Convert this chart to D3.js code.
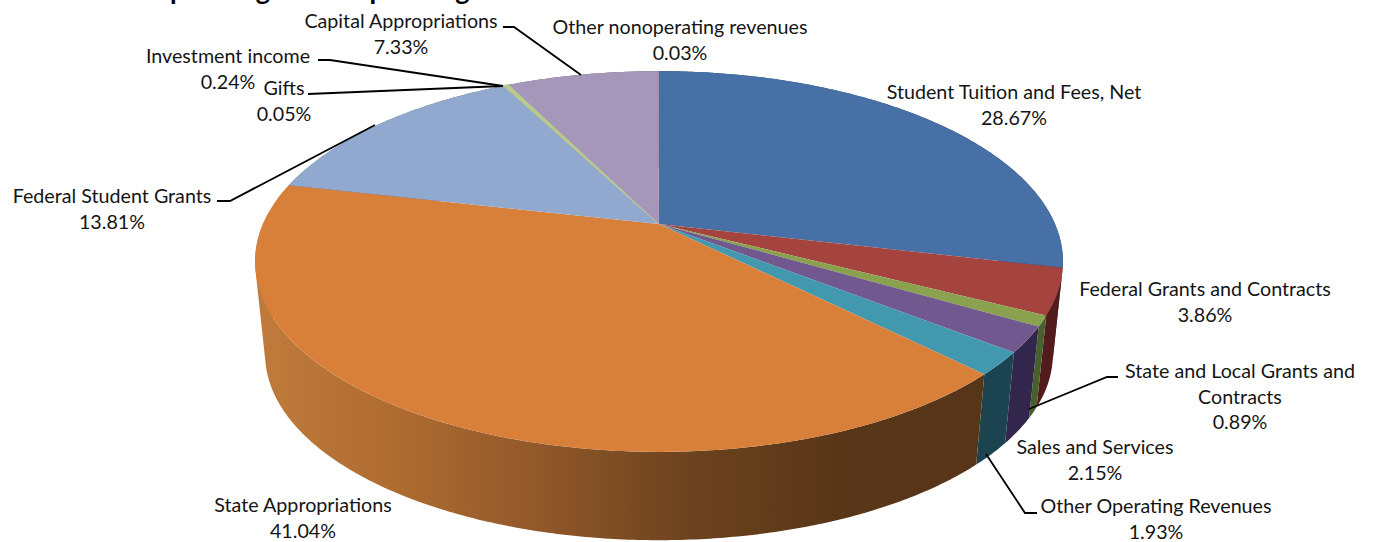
<!DOCTYPE html>
<html>
<head>
<meta charset="utf-8">
<script src="https://cdn.jsdelivr.net/npm/d3@7"></script>
<style>
  html, body { margin: 0; padding: 0; background: #fff; }
  svg { display: block; }
  text { font-family: Lato, sans-serif; font-size: 19.7px; fill: #151515; text-anchor: middle; }
</style>
</head>
<body>
<div id="chart"></div>
<script>
// Chart values
let categories = [
  'Student Tuition and Fees, Net',
  'Federal Grants and Contracts',
  'State and Local Grants and Contracts',
  'Sales and Services',
  'Other Operating Revenues',
  'State Appropriations',
  'Federal Student Grants',
  'Gifts',
  'Investment income',
  'Capital Appropriations',
  'Other nonoperating revenues'
]
let shares = [28.67, 3.86, 0.89, 2.15, 1.93, 41.04, 13.81, 0.05, 0.24, 7.33, 0.03]
let topColors = ['#4670a6', '#a5443f', '#8aa24d', '#71588f', '#4198af', '#d8803a', '#92a9cf', '#b9c98f', '#b9c98f', '#a597ba', '#a597ba']
let sideColors = ['#2a4363', '#521c1c', '#47602c', '#32264d', '#1c4450', 'url(#orange-side)', '#57657c', '#6f7856', '#6f7856', '#63596f', '#63596f']

let width = 1374
let height = 542

// Perspective of the disc
let centerX = 659
let centerY = 224
let radiusX = 396
let radiusY = 183
let tilt = 0.197
let depth = 94
let bottomScale = 0.975

// Label text positions (x centre, first line centre), lines of text, leader lines
let labelLayout = [
  { x: 1014, y: 92, lines: ['Student Tuition and Fees, Net'] },
  { x: 1205, y: 289, lines: ['Federal Grants and Contracts'] },
  { x: 1240, y: 371, lines: ['State and Local Grants and', 'Contracts'], leader: [[1118, 377], [1107, 377], [1029, 409]] },
  { x: 1095, y: 447, lines: ['Sales and Services'] },
  { x: 1156, y: 506, lines: ['Other Operating Revenues'], leader: [[1037, 513], [1025, 513], [986, 454]] },
  { x: 303, y: 505, lines: ['State Appropriations'] },
  { x: 112, y: 196, lines: ['Federal Student Grants'], leader: [[217, 201], [230, 201], [375, 125]] },
  { x: 284, y: 88, lines: ['Gifts'], leader: [[308, 94], [503, 86]] },
  { x: 228, y: 56, lines: ['Investment income'], leader: [[318, 60], [330, 60], [503, 86]] },
  { x: 401, y: 21, lines: ['Capital Appropriations'], leader: [[503, 27], [514, 27], [581, 75]] },
  { x: 680, y: 27, lines: ['Other nonoperating revenues'] }
]

let svg = d3
  .select('#chart')
  .append('svg')
  .attr('width', width)
  .attr('height', height)

// Side of the big orange slice gets darker to the right
let gradient = svg
  .append('defs')
  .append('linearGradient')
  .attr('id', 'orange-side')
  .attr('gradientUnits', 'userSpaceOnUse')
  .attr('x1', 255)
  .attr('x2', 985)
  .attr('y1', 0)
  .attr('y2', 0)

gradient
  .selectAll('stop')
  .data([
    [0, '#c07b3c'],
    [0.2, '#ae6b30'],
    [0.4, '#8f5729'],
    [0.6, '#6b421e'],
    [0.8, '#593618'],
    [1, '#573519']
  ])
  .enter()
  .append('stop')
  .attr('offset', d => d[0])
  .attr('stop-color', d => d[1])

let pie = d3
  .pie()
  .sort(null)
  .value(d => d)

let slices = pie(shares)

// Project an angle on the pie (0 = up, clockwise) to the page
function project(angle, onBottom) {
  let u = Math.sin(angle)
  let v = -Math.cos(angle)
  let w = 1 - tilt * v
  let scale = onBottom ? bottomScale : 1
  return [
    centerX + (scale * radiusX * u) / w,
    centerY + (onBottom ? depth : 0) + (scale * radiusY * v) / w
  ]
}

function arcAngles(slice) {
  let steps = Math.max(2, Math.ceil((slice.endAngle - slice.startAngle) / 0.01))
  return d3.range(steps + 1).map(i => slice.startAngle + ((slice.endAngle - slice.startAngle) * i) / steps)
}

let line = d3.line()

// One path of small quads, so the outline also fills the tangent at the left edge.
// All quads wound the same way or the overlap cancels out under nonzero fill
function sidePath(slice) {
  let angles = arcAngles(slice)
  return d3
    .pairs(angles)
    .map(([a, b]) => {
      let quad = [project(a), project(b), project(b, true), project(a, true)]
      if (d3.polygonArea(quad) < 0) quad.reverse()
      return line(quad) + 'Z'
    })
    .join('')
}

function topPath(slice) {
  let points = arcAngles(slice).map(a => project(a))
  return line([[centerX, centerY]].concat(points)) + 'Z'
}

// sides
svg
  .append('g')
  .selectAll('path')
  .data(slices)
  .enter()
  .append('path')
  .attr('d', sidePath)
  .attr('fill', (d, i) => sideColors[i])

// top faces
svg
  .append('g')
  .selectAll('path')
  .data(slices)
  .enter()
  .append('path')
  .attr('d', topPath)
  .attr('fill', (d, i) => topColors[i])
  // the investment sliver reads wider than its share in the picture
  .attr('stroke', (d, i) => (categories[i] === 'Investment income' ? topColors[i] : 'none'))
  .attr('stroke-width', 1.5)

// leader lines
svg
  .append('g')
  .selectAll('path')
  .data(labelLayout.filter(d => d.leader))
  .enter()
  .append('path')
  .attr('d', d => line(d.leader))
  .attr('fill', 'none')
  .attr('stroke', '#000')
  .attr('stroke-width', 1.8)

// labels: name lines and then the percentage
let labels = svg
  .append('g')
  .selectAll('text')
  .data(labelLayout)
  .enter()
  .append('text')
  .attr('transform', d => `translate(${d.x},${d.y + 7})`)

labels.each(function(d, i) {
  let rows = d.lines.concat(shares[i].toFixed(2) + '%')
  d3.select(this)
    .selectAll('tspan')
    .data(rows)
    .enter()
    .append('tspan')
    .attr('x', 0)
    .attr('y', (r, j) => j * 25.7)
    .text(r => r)
})

// title, cut off by the top of the picture
svg
  .append('text')
  .attr('x', 370)
  .attr('y', 0)
  .attr('font-weight', 'bold')
  .style('font-size', '27px')
  .style('fill', '#000')
  .text('Operating & Nonoperating Revenues')
</script>
</body>
</html>
